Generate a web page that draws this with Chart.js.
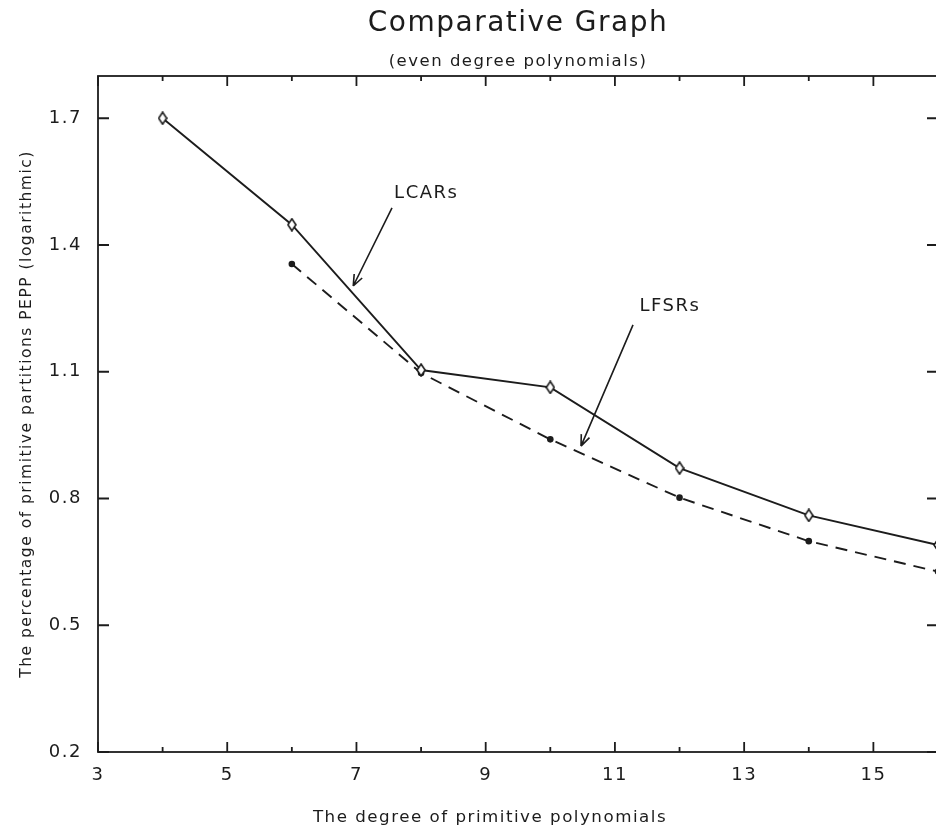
<!DOCTYPE html>
<html>
<head>
<meta charset="utf-8">
<script src="https://cdn.jsdelivr.net/npm/chart.js@4.4.1/dist/chart.umd.min.js"></script>
<style>
  html, body { margin: 0; padding: 0; background: #fff; overflow: hidden; }
  #chart { display: block; width: 1020px; height: 832px; }
</style>
</head>
<body>
<canvas id="chart" width="1020" height="832"></canvas>
<script>
  // data
  const DEGREES      = [4, 6, 8, 10, 12, 14, 16];
  const LCAR_PEPP    = [1.70, 1.448, 1.104, 1.063, 0.872, 0.760, 0.690];
  const LFSR_DEGREES = [6, 8, 10, 12, 14, 16];
  const LFSR_PEPP    = [1.355, 1.097, 0.940, 0.802, 0.699, 0.627];

  const X_TICKS  = [3, 4, 5, 6, 7, 8, 9, 10, 11, 12, 13, 14, 15, 16];
  const X_LABELS = [3, 5, 7, 9, 11, 13, 15];
  const Y_TICKS  = [0.2, 0.5, 0.8, 1.1, 1.4, 1.7];

  const TITLE    = 'Comparative Graph';
  const SUBTITLE = '(even degree polynomials)';
  const X_TITLE  = 'The degree of primitive polynomials';
  const Y_TITLE  = 'The percentage of primitive partitions PEPP (logarithmic)';

  // arrow labels, in data units
  const NOTES = [
    { text: 'LCARs', at: [8.08, 1.522], from: [7.55, 1.488], to: [6.95, 1.303] },
    { text: 'LFSRs', at: [11.85, 1.256], from: [11.28, 1.211], to: [10.475, 0.924] },
  ];

  const INK  = '#1c1c1c';
  const FONT = '"DejaVu Sans", sans-serif';

  Chart.defaults.font.family = FONT;
  Chart.defaults.color = INK;

  function makeDiamond() {
    const c = document.createElement('canvas');
    c.width = 10; c.height = 14;
    const g = c.getContext('2d');
    g.beginPath();
    g.moveTo(5, 1); g.lineTo(9, 7); g.lineTo(5, 13); g.lineTo(1, 7);
    g.closePath();
    g.fillStyle = '#fff'; g.fill();
    g.lineWidth = 1.6; g.strokeStyle = INK; g.stroke();
    return c;
  }

  // wide letter spacing like the plotter font
  const spacingPlugin = {
    id: 'spacing',
    beforeUpdate(chart) { chart.ctx.letterSpacing = '1.5px'; },
    beforeDraw(chart) { chart.ctx.letterSpacing = '1.5px'; },
  };

  // box round the plot with inward ticks on all four sides
  const framePlugin = {
    id: 'frame',
    afterDatasetsDraw(chart) {
      const { ctx, chartArea: a, scales: { x, y } } = chart;
      ctx.save();
      ctx.strokeStyle = INK;
      ctx.lineWidth = 1.8;
      ctx.strokeRect(a.left, a.top, a.right - a.left, a.bottom - a.top);
      ctx.beginPath();
      X_TICKS.forEach(v => {
        const px = x.getPixelForValue(v);
        const len = X_LABELS.includes(v) ? 10 : 5;
        ctx.moveTo(px, a.bottom); ctx.lineTo(px, a.bottom - len);
        ctx.moveTo(px, a.top);    ctx.lineTo(px, a.top + len);
      });
      Y_TICKS.forEach(v => {
        const py = y.getPixelForValue(v);
        ctx.moveTo(a.left, py);  ctx.lineTo(a.left + 11, py);
        ctx.moveTo(a.right, py); ctx.lineTo(a.right - 11, py);
      });
      ctx.stroke();
      ctx.restore();
    }
  };

  // LCARs / LFSRs pointers + x caption
  const notesPlugin = {
    id: 'notes',
    afterDatasetsDraw(chart) {
      const { ctx, chartArea: a, scales: { x, y } } = chart;
      ctx.save();
      ctx.fillStyle = INK;
      ctx.strokeStyle = INK;
      ctx.lineWidth = 1.6;
      ctx.font = `18px ${FONT}`;
      ctx.textAlign = 'center';
      ctx.textBaseline = 'middle';

      NOTES.forEach(n => {
        ctx.fillText(n.text, x.getPixelForValue(n.at[0]), y.getPixelForValue(n.at[1]));
        const x0 = x.getPixelForValue(n.from[0]), y0 = y.getPixelForValue(n.from[1]);
        const x1 = x.getPixelForValue(n.to[0]),   y1 = y.getPixelForValue(n.to[1]);
        const ang = Math.atan2(y1 - y0, x1 - x0);
        ctx.beginPath();
        ctx.moveTo(x0, y0); ctx.lineTo(x1, y1);
        [-1, 1].forEach(s => {
          ctx.moveTo(x1, y1);
          ctx.lineTo(x1 - 12 * Math.cos(ang + s * 0.38), y1 - 12 * Math.sin(ang + s * 0.38));
        });
        ctx.stroke();
      });

      ctx.font = `16.7px ${FONT}`;
      ctx.textBaseline = 'alphabetic';
      ctx.fillText(X_TITLE, a.left + 392, a.bottom + 70);
      ctx.restore();
    }
  };

  new Chart(document.getElementById('chart'), {
    type: 'line',
    data: {
      datasets: [
        {
          label: 'LCARs',
          data: DEGREES.map((d, i) => ({ x: d, y: LCAR_PEPP[i] })),
          borderColor: INK,
          borderWidth: 1.9,
          pointStyle: makeDiamond(),
          pointRadius: 6,
          tension: 0,
        },
        {
          label: 'LFSRs',
          data: LFSR_DEGREES.map((d, i) => ({ x: d, y: LFSR_PEPP[i] })),
          borderColor: INK,
          borderWidth: 1.9,
          borderDash: [12, 8],
          pointStyle: 'circle',
          pointRadius: 3.3,
          pointBackgroundColor: INK,
          pointBorderWidth: 0,
          tension: 0,
        },
      ]
    },
    options: {
      responsive: false,
      animation: false,
      layout: { padding: { left: 0, right: 82, top: 0, bottom: 0 } },
      plugins: {
        legend: { display: false },
        tooltip: { enabled: false },
        title: {
          display: true, text: TITLE, color: INK, fullSize: false,
          font: { size: 28, weight: 'normal' },
          padding: { top: 7, bottom: 0 },
        },
        subtitle: {
          display: true, text: SUBTITLE, color: INK, fullSize: false,
          font: { size: 16.5 },
          padding: { top: 11.6, bottom: 4 },
        },
      },
      scales: {
        x: {
          type: 'linear', min: 3, max: 16,
          afterBuildTicks: s => { s.ticks = X_TICKS.map(v => ({ value: v })); },
          afterFit: s => { s.height = 80; },
          grid: { display: false, drawTicks: false },
          border: { display: false },
          ticks: {
            padding: 13, autoSkip: false, maxRotation: 0,
            font: { size: 18 }, color: INK,
            callback: v => X_LABELS.includes(v) ? String(v) : '',
          },
        },
        y: {
          type: 'linear', min: 0.2, max: 1.8,
          afterBuildTicks: s => { s.ticks = Y_TICKS.map(v => ({ value: v })); },
          afterFit: s => { s.width = 98; },
          grid: { display: false, drawTicks: false },
          border: { display: false },
          ticks: {
            padding: 16, font: { size: 18 }, color: INK,
            callback: v => v.toFixed(1),
          },
          title: {
            display: true, text: Y_TITLE, color: INK,
            font: { size: 15.5 },
            padding: { top: 18, bottom: 0 },
          },
        },
      },
    },
    plugins: [spacingPlugin, framePlugin, notesPlugin],
  });
</script>
</body>
</html>
